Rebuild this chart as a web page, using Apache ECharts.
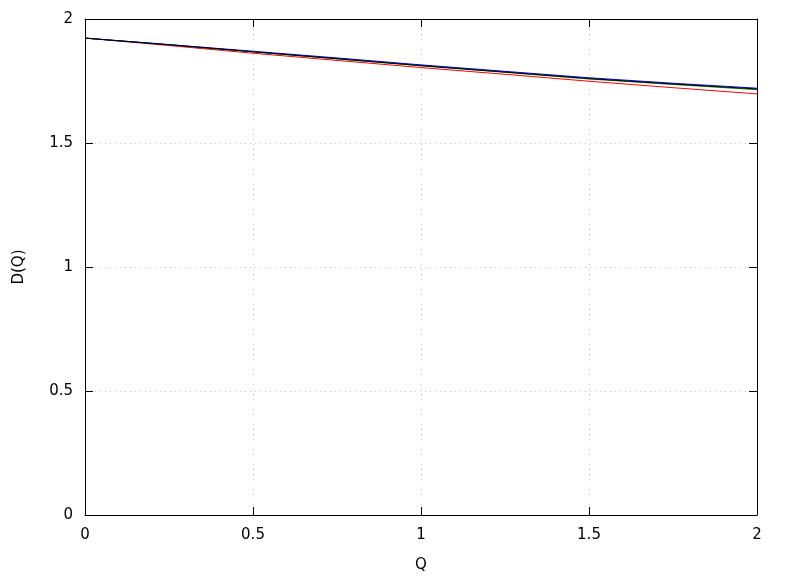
<!DOCTYPE html>
<html><head><meta charset="utf-8">
<script src="https://cdn.jsdelivr.net/npm/echarts@6/dist/echarts.min.js"></script>
<style>html,body{margin:0;padding:0;background:#fff}#c{width:788px;height:576px}</style>
</head><body><div id="c"></div>
<script>
const qValues = [0, 0.25, 0.5, 0.75, 1, 1.25, 1.5, 1.75, 2];
const redD   = [1.923, 1.893, 1.862, 1.833, 1.804, 1.777, 1.749, 1.723, 1.698];
const greenD = [1.923, 1.896, 1.867, 1.839, 1.811, 1.785, 1.758, 1.736, 1.715];
const blueD  = [1.923, 1.897, 1.870, 1.843, 1.815, 1.789, 1.763, 1.741, 1.721];
const blackD = [1.923, 1.896, 1.868, 1.840, 1.812, 1.786, 1.760, 1.738, 1.718];

const chart = echarts.init(document.getElementById('c'));
const font = 'DejaVu Sans';
const fs = 15;
function pairs(ys){ return qValues.map((q,i)=>[q, ys[i]]); }
function ser(name, ys, color){
  return {name, type:'line', data:pairs(ys), showSymbol:false, symbol:'none',
    lineStyle:{color, width:1}, itemStyle:{color}, animation:false, z:2};
}
function axisLine(){ return {show:true, onZero:false, lineStyle:{color:'#000', width:1}}; }
function tick(){ return {show:true, inside:true, length:8, lineStyle:{color:'#000', width:1}}; }
function grid(){ return {show:true, lineStyle:{color:'#c8c8c8', type:[1,4], width:1}}; }
chart.setOption({
  animation:false,
  grid:{left:85, right:31, top:19, bottom:61, containLabel:false, outerBoundsMode:'none'},
  textStyle:{fontFamily:font},
  xAxis:[{
    type:'value', min:0, max:2, interval:0.5, position:'bottom',
    name:'Q', nameLocation:'middle', nameGap:43,
    nameTextStyle:{color:'#000', fontSize:fs, fontFamily:font},
    axisLine:axisLine(), axisTick:tick(),
    axisLabel:{color:'#000', fontSize:fs, fontFamily:font, margin:13},
    splitLine:grid()
  },{
    type:'value', min:0, max:2, interval:0.5, position:'top',
    axisLine:axisLine(), axisTick:tick(), axisLabel:{show:false}, splitLine:{show:false}
  }],
  yAxis:[{
    type:'value', min:0, max:2, interval:0.5, position:'left',
    name:'D(Q)', nameLocation:'middle', nameGap:58, nameRotate:90,
    nameTextStyle:{color:'#000', fontSize:fs, fontFamily:font},
    axisLine:axisLine(), axisTick:tick(),
    axisLabel:{color:'#000', fontSize:fs, fontFamily:font, margin:12},
    splitLine:grid()
  },{
    type:'value', min:0, max:2, interval:0.5, position:'right',
    axisLine:axisLine(), axisTick:tick(), axisLabel:{show:false}, splitLine:{show:false}
  }],
  series:[
    ser('red', redD, '#ff0000'),
    ser('green', greenD, '#008000'),
    ser('blue', blueD, '#0000ff'),
    ser('black', blackD, '#000000')
  ]
});
</script></body></html>
